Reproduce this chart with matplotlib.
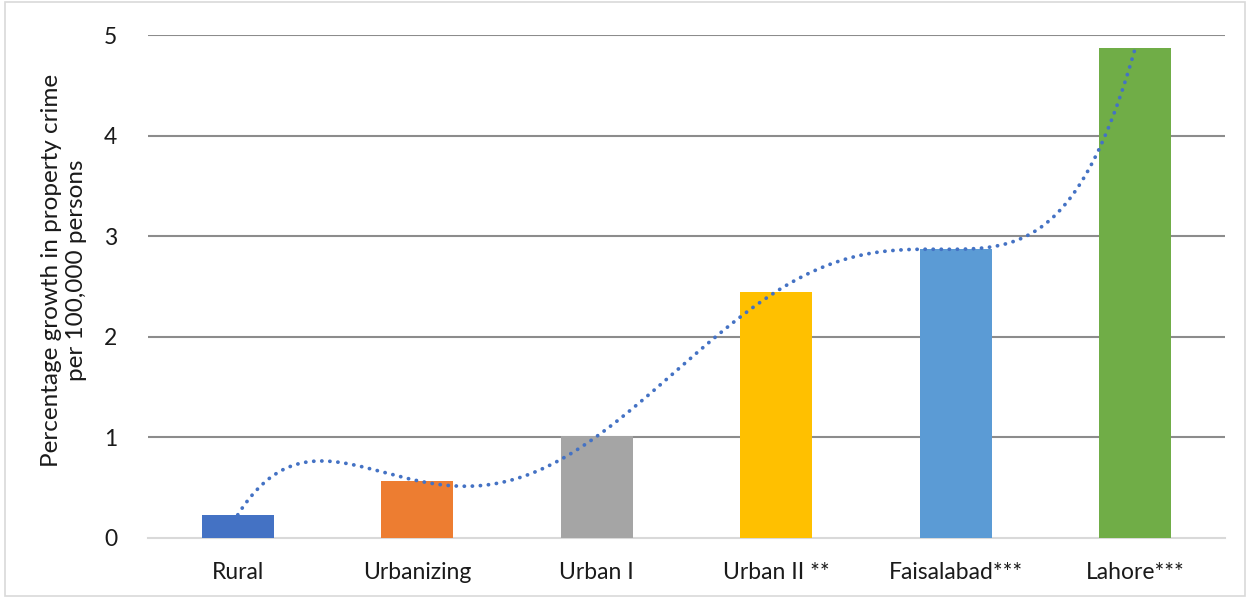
import numpy as np
import matplotlib.pyplot as plt
from matplotlib.patches import Rectangle

categories = ['Rural', 'Urbanizing', 'Urban I', 'Urban II **', 'Faisalabad***', 'Lahore***']
growth = [0.23, 0.57, 1.01, 2.45, 2.87, 4.87]
colors = ['#4472C4', '#ED7D31', '#A5A5A5', '#FFC000', '#5B9BD5', '#70AD47']
yticks = [0, 1, 2, 3, 4, 5]

plt.rcParams['font.family'] = ['Lato', 'DejaVu Sans']

fig = plt.figure(figsize=(12.5, 5.98), dpi=100)
ax = fig.add_axes([148 / 1250, 60 / 598, 1077 / 1250, 503 / 598])

x = np.arange(len(categories))
ax.bar(x, growth, width=0.4, color=colors, zorder=3)

# polynomial trendline (order 5, as in the spreadsheet)
coef = np.polyfit(x, growth, 5)
xs = np.linspace(x[0], x[-1], 400)
ax.plot(xs, np.polyval(coef, xs), color='#4472C4', linestyle=(0, (0.05, 2.1)),
        linewidth=2.7, dash_capstyle='round', zorder=4)

ax.set_xlim(-0.5, len(categories) - 0.5)
ax.set_ylim(0, 5)
ax.set_yticks(yticks)
ax.set_xticks(x)
ax.set_xticklabels(categories, fontsize=16.5, color='#1A1A1A')
ax.tick_params(axis='y', labelsize=16.5, length=0, pad=22, labelcolor='#1A1A1A')
ax.tick_params(axis='x', length=0, pad=17)

for y in yticks[1:]:
    ax.axhline(y, color='#8C8C8C', linewidth=1.5, zorder=1)
for s in ['top', 'right', 'left']:
    ax.spines[s].set_visible(False)
ax.spines['bottom'].set_color('#D9D9D9')
ax.spines['bottom'].set_linewidth(1.5)

ax.set_ylabel('Percentage growth in property crime\nper 100,000 persons', fontsize=17.5,
              linespacing=1.2, color='#1A1A1A')
ax.yaxis.set_label_coords(-0.057, 0.532)

fig.patches.append(Rectangle((0.004, 0.004), 0.992, 0.992, transform=fig.transFigure,
                             fill=False, edgecolor='#D9D9D9', linewidth=1.2))

fig.savefig('out.png', dpi=100)
